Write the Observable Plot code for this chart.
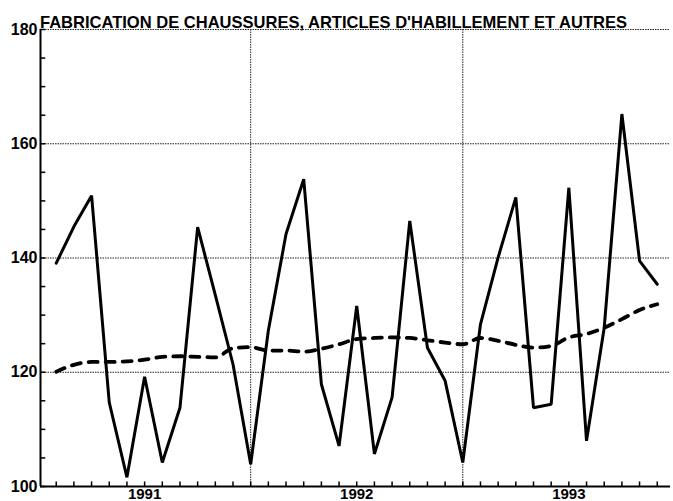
<!DOCTYPE html>
<html>
<head>
<meta charset="utf-8">
<script src="https://cdn.jsdelivr.net/npm/d3@7"></script>
<script src="https://cdn.jsdelivr.net/npm/@observablehq/plot@0.6"></script>
<style>
  html, body { margin: 0; padding: 0; background: #fff; }
  #chart { width: 673px; height: 501px; overflow: hidden; }
</style>
</head>
<body>
<div id="chart"></div>
<script>
const title = "FABRICATION DE CHAUSSURES, ARTICLES D'HABILLEMENT ET AUTRES";
// monthly index (0 = first month of 1991)
const months = d3.range(0, 35);
const production = [139.1, 145.5, 150.9, 114.7, 101.6, 119.2, 104.2, 113.8, 145.4, 133.5, 121.4, 103.9,
                    127.3, 144.2, 153.8, 117.9, 107.1, 131.6, 105.7, 115.6, 146.5, 124.3, 118.5, 104.2,
                    128.4, 140.1, 150.6, 113.8, 114.4, 152.3, 108.0, 127.8, 165.2, 139.5, 135.4];
const trend = [120.1, 121.3, 121.8, 121.8, 121.9, 122.2, 122.7, 122.8, 122.7, 122.6, 124.2, 124.4,
               123.8, 123.8, 123.6, 124.1, 124.9, 125.8, 126.0, 126.1, 126.0, 125.6, 125.2, 124.9,
               126.0, 125.5, 124.8, 124.3, 124.6, 126.1, 126.7, 127.8, 129.3, 130.9, 131.9];
const yearLabels = ["1991", "1992", "1993"];
const yearLabelPos = [5, 17, 29];
const yearBreaks = [11, 23];
const yGrid = [120, 140, 160, 180];
const yLabels = [100, 120, 140, 160, 180];
const yMinor = d3.range(100, 181, 5);

const xMin = -0.89, xMax = 34.75;
const prodData = months.map((m, i) => ({m, v: production[i]}));
const trendData = months.map((m, i) => ({m, v: trend[i]}));
const font = "'Liberation Sans', Arial, Helvetica, sans-serif";

const chart = Plot.plot({
  width: 673,
  height: 501,
  marginLeft: 40,
  marginRight: 3,
  marginTop: 29,
  marginBottom: 15,
  style: {fontFamily: font, fontSize: "16px", color: "#000", background: "#fff", overflow: "visible"},
  x: {domain: [xMin, xMax], axis: null},
  y: {domain: [100, 180], axis: null},
  marks: [
    // dotted grid
    Plot.ruleY(yGrid, {stroke: "#222", strokeWidth: 1, strokeDasharray: "1.5,1"}),
    Plot.ruleX(yearBreaks, {stroke: "#222", strokeWidth: 1, strokeDasharray: "1.5,1"}),
    // axis lines
    Plot.ruleX([xMin], {stroke: "#000", strokeWidth: 2}),
    Plot.ruleY([100], {stroke: "#000", strokeWidth: 2}),
    // minor y ticks (inward)
    Plot.ruleY(yMinor, {x1: xMin, x2: xMin + 0.3, stroke: "#000", strokeWidth: 1.5}),
    // monthly x ticks (inward)
    Plot.ruleX(months, {y1: 100, y2: 100.8, stroke: "#000", strokeWidth: 1.5}),
    Plot.axisY(yLabels, {label: null, tickSize: 0, tickPadding: 3, fontSize: 16, fontWeight: "bold", fill: "#000"}),
    Plot.axisX(yearLabelPos, {label: null, tickSize: 0, tickPadding: 2, fontSize: 15, fontWeight: "bold", fill: "#000",
      tickFormat: (d) => yearLabels[yearLabelPos.indexOf(d)]}),
    // series
    Plot.line(trendData, {x: "m", y: "v", stroke: "#000", strokeWidth: 3.8, strokeDasharray: "9,8",
      strokeLinecap: "round", curve: "monotone-x"}),
    Plot.line(prodData, {x: "m", y: "v", stroke: "#000", strokeWidth: 3, strokeLinejoin: "miter"})
  ]
});
// title as real text, just above the top gridline
d3.select(chart).append("text")
  .attr("x", 40)
  .attr("y", 28)
  .attr("text-anchor", "start")
  .style("text-anchor", "start")
  .attr("font-family", font)
  .attr("font-size", 17)
  .attr("font-weight", "bold")
  .attr("fill", "#000")
  .attr("textLength", 587)
  .attr("lengthAdjust", "spacingAndGlyphs")
  .text(title);
document.getElementById("chart").appendChild(chart);
</script>
</body>
</html>
